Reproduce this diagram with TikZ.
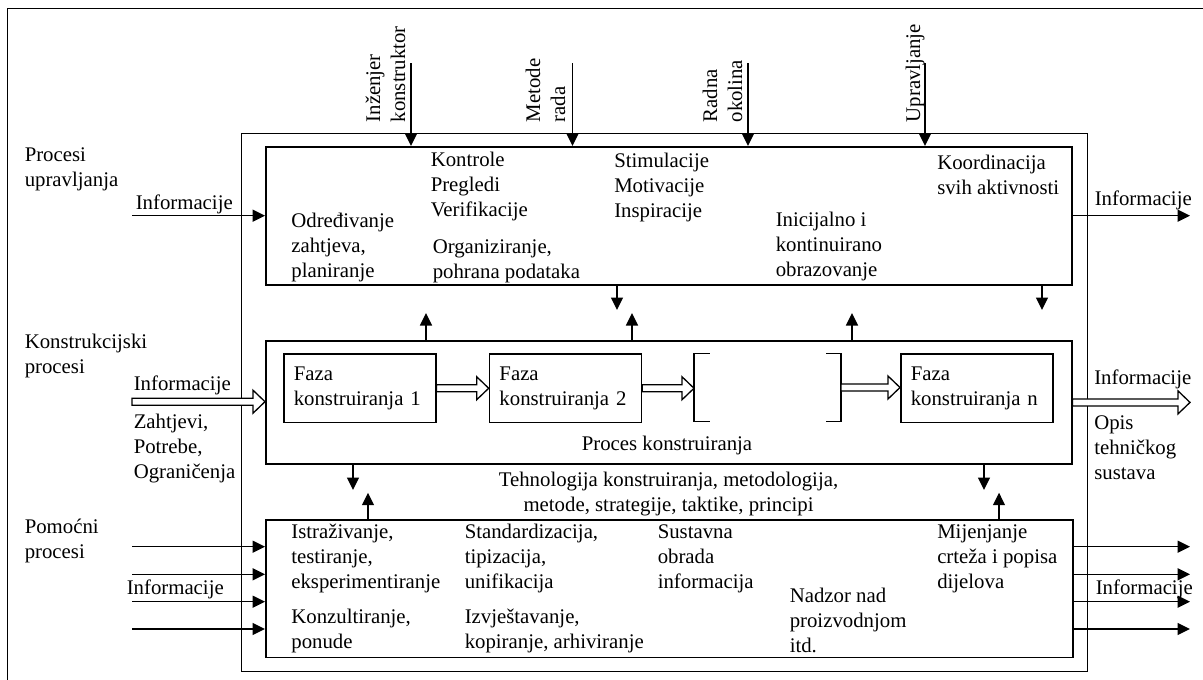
\documentclass[tikz,border=0pt]{standalone}
\usepackage{fontspec}
\setmainfont{Liberation Serif}
\usetikzlibrary{arrows.meta, calc, positioning}

\newcommand\dblarr[2]{\draw[fill=white, line width=1.3pt] let \p1=(#1), \p2=(#2) in (\x1,\y1+3.5pt) -- (\x2-12pt,\y1+3.5pt) -- (\x2-12pt,\y1+11.5pt) -- (\x2,\y1) -- (\x2-12pt,\y1-11.5pt) -- (\x2-12pt,\y1-3.5pt) -- (\x1,\y1-3.5pt) -- cycle;}

\begin{document}
\begin{tikzpicture}[x=1pt, y=-1pt, line width=1.5pt,
  every node/.style={font=\fontsize{20.8}{25}\selectfont},
  txt/.style={anchor=north west, inner sep=0pt, align=left},
  vtxt/.style={txt, rotate=90},
  box/.style={draw, anchor=north west, inner sep=0pt},
  faza/.style={draw, anchor=north west, text width=132pt, inner xsep=10pt, inner ysep=0pt, minimum height=68.4pt, align=left},
  arr/.style={-{Triangle[length=12.5pt, width=12pt]}}]
\useasboundingbox (0,0) rectangle (1203,680);

\draw (7.6,680) -- (7.6,8.3) -- (1203,8.3);

\node [box, minimum width=846pt, minimum height=538pt] (frame) at (240.7,132.7) {};
\node [box, minimum width=806pt, minimum height=138pt] (upr) at (265,146) {};
\node [box, minimum width=806pt, minimum height=123.3pt] (kon) at (265,340) {};
\node [box, minimum width=807pt, minimum height=137.4pt] (pom) at (265,519.3) {};

% % % % % % % % % % % % % % % % % % % % % % % % % %

\node [txt] (procU) at (24,147) {Procesi\\upravljanja};
\node [txt] (procK) at (24,333.7) {Konstrukcijski\\procesi};
\node [txt] (procP) at (24,518.7) {Pomoćni\\procesi};

\node [txt] (infU) at (135,193.7) {Informacije};
\node [txt] (infK) at (133,374.7) {Informacije};
\node [txt] (zaht) at (133,413.7) {Zahtjevi,\\Potrebe,\\Ograničenja};
\node [txt] (infP) at (126,578.7) {Informacije};

\node [vtxt] (inz) at (365,123) {Inženjer\\konstruktor};
\node [vtxt] (met) at (525,123) {Metode\\rada};
\node [vtxt] (rad) at (702,123) {Radna\\okolina};
\node [vtxt] (upra) at (905,123) {Upravljanje};

\node [txt] (odr) at (290.6,212) {Određivanje\\zahtjeva,\\planiranje};
\node [txt] (kontr) at (430,151) {Kontrole\\Pregledi\\Verifikacije};
\node [txt] (org) at (432,239) {Organiziranje,\\pohrana podataka};
\node [txt] (stim) at (613.5,152) {Stimulacije\\Motivacije\\Inspiracije};
\node [txt] (inic) at (775,211) {Inicijalno i\\kontinuirano\\obrazovanje};
\node [txt] (koord) at (936.5,154) {Koordinacija\\svih aktivnosti};

\node [txt] (infUo) at (1094,190) {Informacije};
\node [txt] (infKo) at (1093.5,368.7) {Informacije};
\node [txt] (opis) at (1093.5,414.7) {Opis\\tehničkog\\sustava};
\node [txt] (infPo) at (1095,578.7) {Informacije};

\node [faza] (f1) at (283,353.3) {Faza\\konstruiranja 1};
\node [faza] (f2) at (488.7,353.3) {Faza\\konstruiranja 2};
\node [faza] (fn) at (900,353.3) {Faza\\konstruiranja n};
\node (prk) at (667,445) {Proces konstruiranja};
\node [anchor=north, inner sep=0pt, align=center] (tehn) at (668.5,471) {Tehnologija konstruiranja, metodologija,\\metode, strategije, taktike, principi};

\node [txt] (istr) at (290.6,523.7) {Istraživanje,\\testiranje,\\eksperimentiranje};
\node [txt] (konz) at (290.6,608) {Konzultiranje,\\ponude};
\node [txt] (stand) at (464,523.7) {Standardizacija,\\tipizacija,\\unifikacija};
\node [txt] (izvj) at (464,608) {Izvještavanje,\\kopiranje, arhiviranje};
\node [txt] (sust) at (657,523.7) {Sustavna\\obrada\\informacija};
\node [txt] (nadz) at (789,587) {Nadzor nad\\proizvodnjom\\itd.};
\node [txt] (mij) at (936.5,523.7) {Mijenjanje\\crteža i popisa\\dijelova};

% brackets
\draw (709.6,353.3) -- (694,353.3) -- (694,421.7) -- (709.6,421.7);
\draw (826,353.3) -- (841,353.3) -- (841,421.7) -- (826,421.7);
\coordinate (lb) at (694,387.5);
\coordinate (rb) at (841,387.5);

\dblarr{f1.east}{f2.west}
\dblarr{f2.east}{lb}
\dblarr{rb}{fn.west}
\coordinate (kin) at (132,401.7);
\coordinate (kout) at (1190,401.7);
\dblarr{kin}{kon.west}
\dblarr{kon.east}{kout}

% inputs from above
\coordinate (ik) at (411,63);
\coordinate (im) at (572.5,63);
\coordinate (ir) at (748,63);
\coordinate (iu) at (925,63);
\draw [arr] (ik) -- (ik |- upr.north);
\draw [arr] (im) -- (im |- upr.north);
\draw [arr] (ir) -- (ir |- upr.north);
\draw [arr] (iu) -- (iu |- upr.north);

\coordinate (lu) at (132,215.7);
\coordinate (ru) at (1190,215.7);
\draw [arr] (lu) -- (lu -| upr.west);
\draw [arr] (upr.east |- ru) -- (ru);

\foreach \y [count=\i] in {546.7,574.3,601.7,629} {
  \coordinate (pl\i) at (132,\y);
  \coordinate (pr\i) at (1190,\y);
  \draw [arr] (pl\i) -- (pl\i -| pom.west);
  \draw [arr] (pr\i -| pom.east) -- (pr\i);
}

% between the boxes
\coordinate (d1) at (617,310);
\coordinate (d2) at (1042,310);
\coordinate (u1) at (426,313);
\coordinate (u2) at (632,313);
\coordinate (u3) at (852,313);
\draw [arr] (d1 |- upr.south) -- (d1);
\draw [arr] (d2 |- upr.south) -- (d2);
\draw [arr] (u1 |- kon.north) -- (u1);
\draw [arr] (u2 |- kon.north) -- (u2);
\draw [arr] (u3 |- kon.north) -- (u3);

\coordinate (d3) at (353,490);
\coordinate (d4) at (984,490);
\coordinate (u4) at (368,492.7);
\coordinate (u5) at (999,492.7);
\draw [arr] (d3 |- kon.south) -- (d3);
\draw [arr] (d4 |- kon.south) -- (d4);
\draw [arr] (u4 |- pom.north) -- (u4);
\draw [arr] (u5 |- pom.north) -- (u5);
\end{tikzpicture}
\end{document}
